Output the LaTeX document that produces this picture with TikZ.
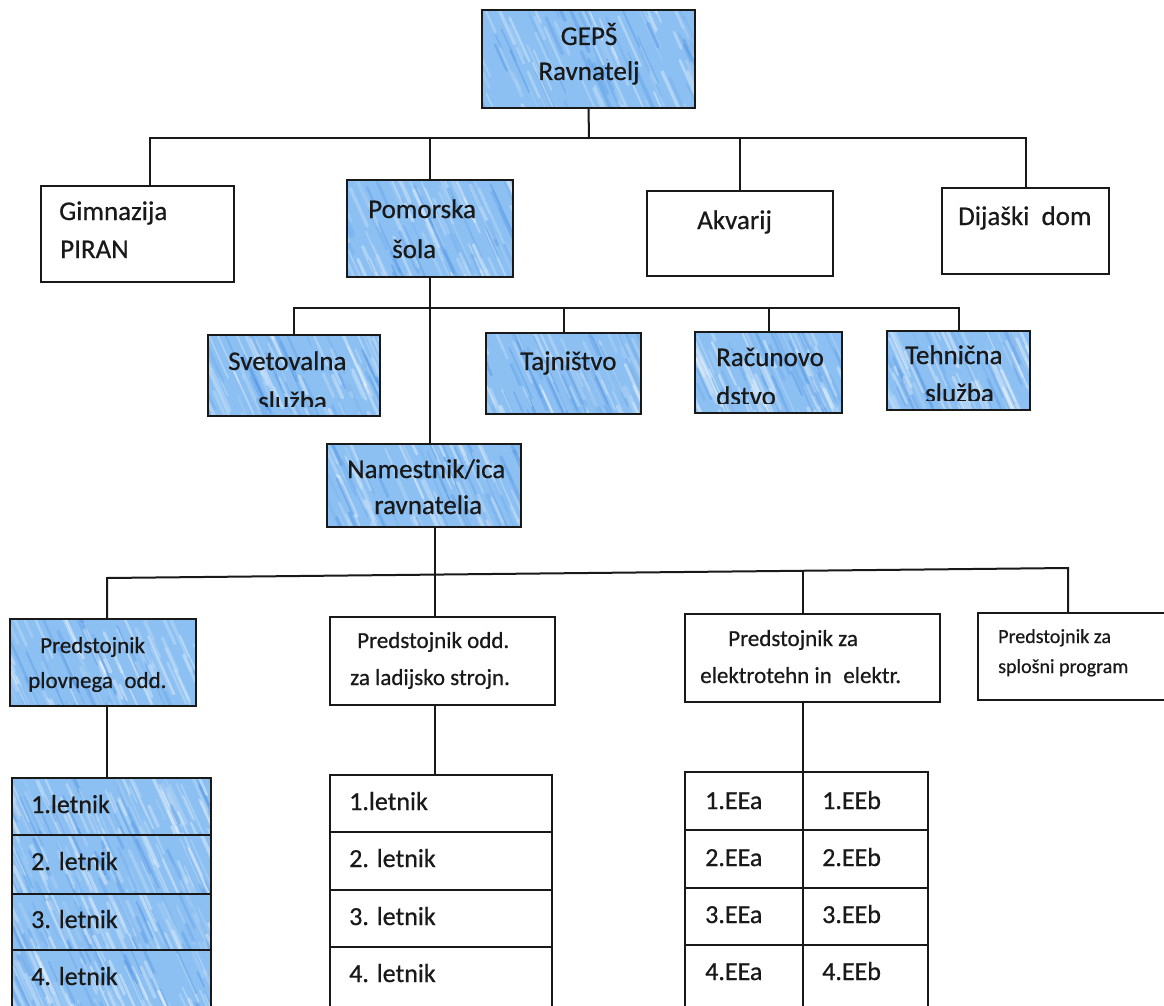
\documentclass[tikz,border=0pt]{standalone}
\usepackage{fontspec}
\setmainfont{Carlito}[BoldFont=Carlito, BoldFeatures={FakeBold=0.6}]
\usetikzlibrary{calc}
\definecolor{blu}{RGB}{140,192,242}
\definecolor{bludark}{RGB}{70,140,225}
\definecolor{ink}{RGB}{25,25,25}
\newcommand\fbig{\fontsize{27}{31}\bfseries\selectfont}
\newcommand\ftab{\fontsize{26}{30}\bfseries\selectfont}
\newcommand\fmid{\fontsize{23}{27}\bfseries\selectfont}
\newcommand\fsml{\fontsize{20}{24}\bfseries\selectfont}
\newcommand\mybox[6]{\node[#6, minimum width={(#4-#2)*1pt}, minimum height={(#5-#3)*1pt}] (#1) at ({(#2+#4)/2},{(#3+#5)/2}) {};}
\tikzset{
  streaks/.style={path picture={
    \pgfmathsetseed{#1}
    \foreach \k in {1,...,110}{
      \pgfmathsetmacro{\uu}{rnd*1.2-0.15}
      \pgfmathsetmacro{\vv}{rnd*1.2-0.2}
      \pgfmathsetmacro{\oo}{0.10+0.28*rnd}
      \pgfmathsetmacro{\ll}{15+45*rnd}
      \pgfmathsetmacro{\cc}{rnd}
      \pgfmathsetmacro{\ww}{1.2+2.6*rnd}
      \coordinate (sa) at ($(path picture bounding box.north west)!\uu!(path picture bounding box.north east)$);
      \coordinate (sb) at ($(sa)!\vv!(sa |- path picture bounding box.south)$);
      \ifdim\cc pt<0.62pt
        \draw[white, line width=\ww pt, opacity=\oo, line cap=round] (sb) -- ++({0.45*\ll},{\ll});
      \else
        \draw[bludark, line width=\ww pt, opacity=\oo, line cap=round] (sb) -- ++({0.45*\ll},{\ll});
      \fi
    }
  }},
  bluebox/.style={draw=ink, line width=2pt, fill=blu, inner sep=0pt, outer sep=0pt, rectangle, streaks=#1},
  bluebox/.default=7,
  whitebox/.style={draw=ink, line width=2pt, fill=white, inner sep=0pt, outer sep=0pt, rectangle},
  conn/.style={draw=ink, line width=2pt},
  tb/.style={anchor=base west, inner sep=0pt, font=\fbig, text=ink},
  tt/.style={anchor=base west, inner sep=0pt, font=\ftab, text=ink},
  tbc/.style={anchor=base, inner sep=0pt, font=\fbig, text=ink},
  tm/.style={anchor=base west, inner sep=0pt, font=\fmid, text=ink},
  ts/.style={anchor=base west, inner sep=0pt, font=\fsml, text=ink}
}
\begin{document}
\begin{tikzpicture}[x=1pt,y=-1pt]
\clip (0,0) rectangle (1164,1006);
\fill[white] (0,0) rectangle (1164,1006);
% boxes
\mybox{geps}{482}{10}{695}{108}{bluebox=11}
\mybox{gimn}{41}{186}{234}{282}{whitebox}
\mybox{pom}{347}{180}{513}{277}{bluebox=12}
\mybox{akv}{647}{191}{833}{276}{whitebox}
\mybox{dij}{942}{188}{1109}{274}{whitebox}
\mybox{svet}{208}{335}{380}{416}{bluebox=13}
\mybox{taj}{486}{333}{641}{414}{bluebox=14}
\mybox{rac}{695}{332}{842}{413}{bluebox=15}
\mybox{teh}{887}{331}{1030}{410}{bluebox=16}
\mybox{nam}{327}{444}{521}{527}{bluebox=17}
\mybox{plov}{10}{619}{196}{706}{bluebox=18}
\mybox{lad}{330}{617}{555}{705}{whitebox}
\mybox{ele}{685}{614}{940}{702}{whitebox}
\mybox{spl}{978}{613}{1180}{700}{whitebox}
% tables
\mybox{p1}{12}{778}{211}{835}{bluebox=21}
\mybox{p2}{12}{835}{211}{894}{bluebox=22}
\mybox{p3}{12}{894}{211}{950}{bluebox=23}
\mybox{p4}{12}{950}{211}{1015}{bluebox=24}
\mybox{l1}{330}{775}{552}{832}{whitebox}
\mybox{l2}{330}{832}{552}{890}{whitebox}
\mybox{l3}{330}{890}{552}{947}{whitebox}
\mybox{l4}{330}{947}{552}{1015}{whitebox}
\mybox{ea1}{685}{772}{803}{830}{whitebox}
\mybox{ea2}{685}{830}{803}{888}{whitebox}
\mybox{ea3}{685}{888}{803}{945}{whitebox}
\mybox{ea4}{685}{945}{803}{1015}{whitebox}
\mybox{eb1}{803}{772}{928}{830}{whitebox}
\mybox{eb2}{803}{830}{928}{888}{whitebox}
\mybox{eb3}{803}{888}{928}{945}{whitebox}
\mybox{eb4}{803}{945}{928}{1015}{whitebox}
% connectors level 1
\coordinate (b1) at (589,138);
\coordinate (b1l) at (150,138);
\draw[conn] (geps.south) -- (b1);
\draw[conn] (b1l |- gimn.north) -- (b1l) -- (dij.north |- b1) -- (dij.north);
\draw[conn] (pom.north) -- (pom.north |- b1);
\draw[conn] (akv.north) -- (akv.north |- b1);
% level 2
\coordinate (b2) at (430,308);
\draw[conn] (pom.south) -- (pom.south |- nam.north);
\draw[conn] (svet.north) -- (svet.north |- b2) -- (teh.north |- b2) -- (teh.north);
\draw[conn] (taj.north) -- (taj.north |- b2);
\draw[conn] (rac.north) -- (rac.north |- b2);
% level 3 (slightly slanted bus)
\coordinate (b3l) at (107,578);
\coordinate (b3m) at (435,574.6);
\coordinate (b3e) at (803,570.8);
\coordinate (b3r) at (1068,568);
\draw[conn] (b3m |- nam.south) -- (b3m) -- (b3m |- lad.north);
\draw[conn] (b3l |- plov.north) -- (b3l) -- (b3r) -- (b3r |- spl.north);
\draw[conn] (b3e) -- (b3e |- ele.north);
% tables
\draw[conn] (plov.south -| b3l) -- (b3l |- p1.north);
\draw[conn] (lad.south -| b3m) -- (b3m |- l1.north);
\draw[conn] (ea1.north east |- ele.south) -- (ea1.north east);
% texts
\node[tbc] (tg1) at (589,45) {GEPŠ};
\node[tbc] (tg2) at (589,80) {Ravnatelj};
\node[tb] (tgi1) at (59,220) {Gimnazija};
\node[tb] (tgi2) at (60,258) {PIRAN};
\node[tb] (tpo1) at (368,218) {Pomorska};
\node[tb] (tpo2) at (392,258) {šola};
\node[tb] (tak) at (697,229) {Akvarij};
\node[tb] (tdi) at (958,225) {Dijaški\hspace{0.45em}dom};
\begin{scope}
\clip (208,335) rectangle (380,406);
\node[tb] (tsv1) at (228,370) {Svetovalna};
\node[tb] (tsv2) at (258,410) {služba};
\end{scope}
\node[tb] (tta) at (520,370) {Tajništvo};
\begin{scope}
\clip (695,332) rectangle (842,403);
\node[tb] (tra1) at (716,366) {Računovo};
\node[tb] (tra2) at (716,405) {dstvo};
\end{scope}
\begin{scope}
\clip (887,331) rectangle (1030,400);
\node[tb] (tte1) at (905,364) {Tehnična};
\node[tb] (tte2) at (925,402) {služba};
\end{scope}
\node[tb] (tna1) at (347,478) {Namestnik/ica};
\node[tb] (tna2) at (374,514) {ravnatelia};
\node[tm] (tpl1) at (40,653) {Predstojnik};
\node[tm] (tpl2) at (28,688) {plovnega\hspace{0.5em}odd.};
\node[tm] (tla1) at (357,648) {Predstojnik odd.};
\node[tm] (tla2) at (350,685) {za ladijsko strojn.};
\node[tm] (tel1) at (728,646) {Predstojnik za};
\node[tm] (tel2) at (700,683) {elektrotehn in\hspace{0.5em}elektr.};
\node[ts] (tsp1) at (998,643) {Predstojnik za};
\node[ts] (tsp2) at (998,673) {splošni program};
\node[tt] (tp1) at (31,813) {1.letnik};
\node[tt] (tp2) at (31,870) {2. letnik};
\node[tt] (tp3) at (31,928) {3. letnik};
\node[tt] (tp4) at (31,985) {4. letnik};
\node[tt] (tl1) at (349,810) {1.letnik};
\node[tt] (tl2) at (349,867) {2. letnik};
\node[tt] (tl3) at (349,925) {3. letnik};
\node[tt] (tl4) at (349,982) {4. letnik};
\node[tt] (tea1) at (705,809) {1.EEa};
\node[tt] (tea2) at (705,866) {2.EEa};
\node[tt] (tea3) at (705,923) {3.EEa};
\node[tt] (tea4) at (705,980) {4.EEa};
\node[tt] (teb1) at (822,809) {1.EEb};
\node[tt] (teb2) at (822,866) {2.EEb};
\node[tt] (teb3) at (822,923) {3.EEb};
\node[tt] (teb4) at (822,980) {4.EEb};
\end{tikzpicture}
\end{document}
